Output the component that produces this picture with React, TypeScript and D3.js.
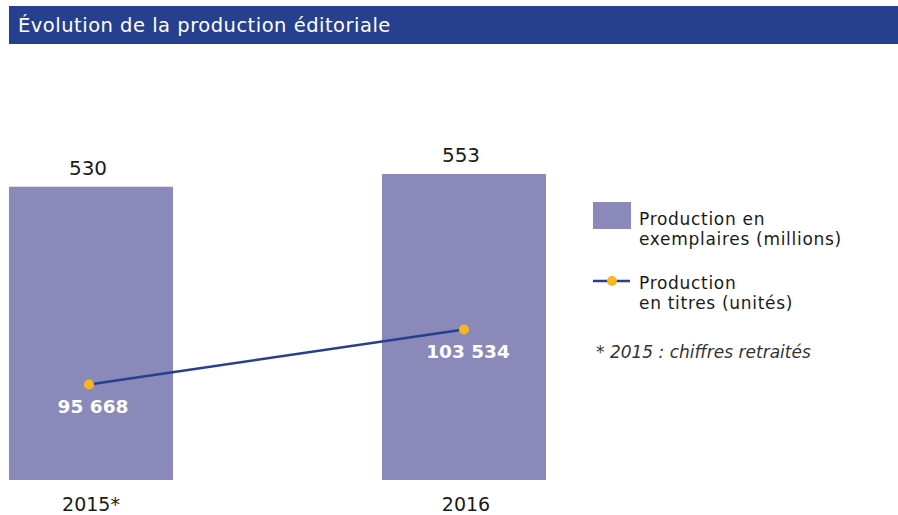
import React from "react";
import * as d3 from "d3";

const title = "Évolution de la production éditoriale";
const categories = ["2015*", "2016"];
const exemplaires = [530, 553];
const titres = [95668, 103534];
const titreLabels = ["95 668", "103 534"];
const legendBar = ["Production en", "exemplaires (millions)"];
const legendLine = ["Production", "en titres (unités)"];
const footnote = "* 2015 : chiffres retraités";

const W = 898;
const H = 515;
const FONT = "'DejaVu Sans', 'Open Sans', sans-serif";
const BAR_COLOR = "#8a89b9";
const NAVY = "#263f8e";
const ORANGE = "#f8b522";
const TEXT = "#1a1a1a";

export default function App() {
  const x = d3.scalePoint<string>().domain(categories).range([91, 464]);
  const barW = 164;
  const yBar = d3.scaleLinear().domain([0, 553]).range([480, 174]);
  const yLine = d3.scaleLinear().domain([82000, 110000]).range([480, 284.3]);
  const px = (i: number) => (x(categories[i]) as number) - (i === 0 ? 2 : 0);
  const line = d3
    .line<number>()
    .x((_, i) => px(i))
    .y((d) => yLine(d));

  return (
    <svg
      width={W}
      height={H}
      style={{ position: "absolute", left: 0, top: 0, fontFamily: FONT }}
    >
      <rect x={0} y={0} width={W} height={H} fill="#fff" />
      <rect x={9} y={6} width={W - 9} height={38} fill={NAVY} />
      <text x={18} y={32} fill="#fff" fontSize={19.5} letterSpacing={0.5}>
        {title}
      </text>

      {exemplaires.map((v, i) => {
        const cx = x(categories[i]) as number;
        return (
          <g key={categories[i]}>
            <rect
              x={cx - barW / 2}
              y={yBar(v)}
              width={barW}
              height={yBar(0) - yBar(v)}
              fill={BAR_COLOR}
            />
            <text
              x={cx - 3}
              y={yBar(v) - 12}
              textAnchor="middle"
              fontSize={20}
              fill={TEXT}
            >
              {v}
            </text>
            <text
              x={cx + (i === 1 ? 2 : 0)}
              y={511}
              textAnchor="middle"
              fontSize={19}
              fill={TEXT}
            >
              {categories[i]}
            </text>
          </g>
        );
      })}

      <path d={line(titres) as string} fill="none" stroke={NAVY} strokeWidth={2.5} />
      {titres.map((v, i) => (
        <g key={i}>
          <circle cx={px(i)} cy={yLine(v)} r={5} fill={ORANGE} />
          <text
            x={px(i) + 4}
            y={yLine(v) + 29}
            textAnchor="middle"
            fontSize={18.5}
            fontWeight="bold"
            fill="#fff"
          >
            {titreLabels[i]}
          </text>
        </g>
      ))}

      <rect x={593} y={202} width={38} height={27} fill={BAR_COLOR} />
      {legendBar.map((t, i) => (
        <text key={t} x={639} y={225 + i * 20} fontSize={17} letterSpacing={0.7} fill={TEXT}>
          {t}
        </text>
      ))}
      <line x1={593} x2={630} y1={281} y2={281} stroke={NAVY} strokeWidth={2.5} />
      <circle cx={612} cy={281} r={5} fill={ORANGE} />
      {legendLine.map((t, i) => (
        <text key={t} x={639} y={289 + i * 20} fontSize={17} letterSpacing={0.7} fill={TEXT}>
          {t}
        </text>
      ))}
      <text x={596} y={358} fontSize={17} fontStyle="italic" fill="#333">
        {footnote}
      </text>
    </svg>
  );
}
